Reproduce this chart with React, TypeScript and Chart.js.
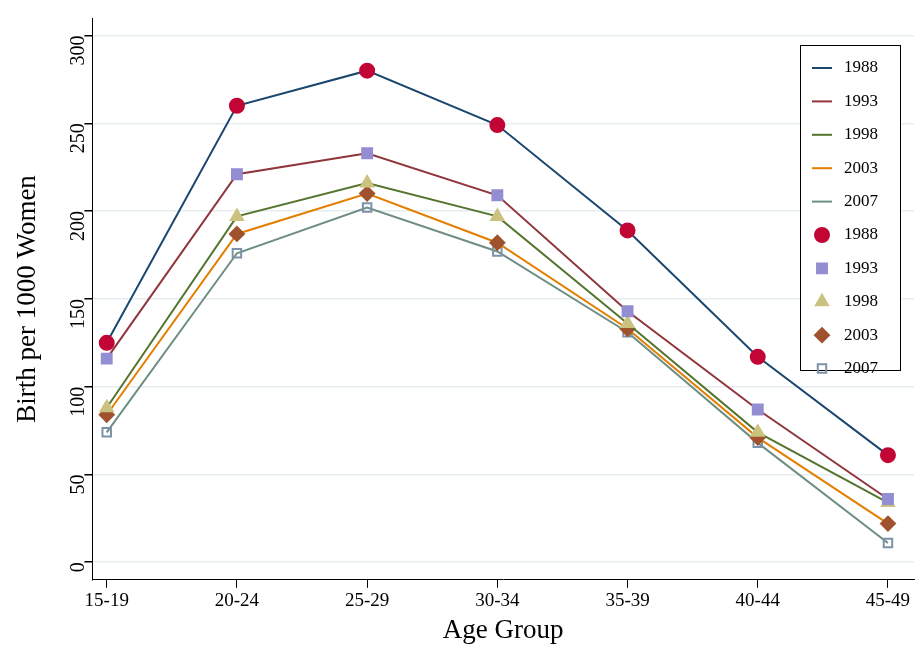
import React, { useEffect, useRef } from "react";
import { Chart, registerables } from "chart.js";
import { drawPoint } from "chart.js/helpers";
Chart.register(...registerables);

const categories = ["15-19", "20-24", "25-29", "30-34", "35-39", "40-44", "45-49"];
const years = ["1988", "1993", "1998", "2003", "2007"];
const v1988 = [125, 260, 280, 249, 189, 117, 61];
const v1993 = [116, 221, 233, 209, 143, 87, 36];
const v1998 = [88, 197, 216, 197, 136, 74, 34];
const v2003 = [84, 187, 210, 182, 133, 71, 22];
const v2007 = [74, 176, 202, 177, 131, 68, 11];
const series = [v1988, v1993, v1998, v2003, v2007];
const lineColors = ["#1a476f", "#90353b", "#55752f", "#e37e00", "#6e8e84"];
const markColors = ["#c10534", "#938dd2", "#cac27e", "#a0522d", "#7b92a8"];
const markStyles = ["circle", "rect", "triangle", "rectRot", "rect"];
const markRadius = [7, 7, 7, 7, 6];
const FONT = "'Liberation Serif', 'DejaVu Serif', serif";

const legendPlugin = {
  id: "customLegend",
  afterDraw(chart: any) {
    const ctx = chart.ctx;
    const x0 = 800, y0 = 45, w = 100, h = 325;
    ctx.save();
    ctx.fillStyle = "#fff";
    ctx.fillRect(x0, y0, w, h);
    ctx.strokeStyle = "#000";
    ctx.lineWidth = 1;
    ctx.strokeRect(x0 + 0.5, y0 + 0.5, w, h);
    ctx.font = `17px ${FONT}`;
    ctx.textBaseline = "middle";
    for (let i = 0; i < 10; i++) {
      const y = y0 + 23 + i * 33.4;
      const k = i % 5;
      if (i < 5) {
        ctx.strokeStyle = lineColors[k];
        ctx.lineWidth = 2;
        ctx.beginPath();
        ctx.moveTo(x0 + 12, y);
        ctx.lineTo(x0 + 32, y);
        ctx.stroke();
      } else {
        ctx.lineWidth = 2;
        ctx.fillStyle = k !== 4 ? markColors[k] : "rgba(0,0,0,0)";
        ctx.strokeStyle = markColors[k];
        drawPoint(ctx, { pointStyle: markStyles[k], radius: markRadius[k], rotation: 0, borderWidth: 2 } as any, x0 + 22, y);
      }
      ctx.fillStyle = "#000";
      ctx.fillText(years[k], x0 + 44, y);
    }
    ctx.restore();
  },
};

export default function App() {
  const ref = useRef<HTMLCanvasElement>(null);
  useEffect(() => {
    const datasets: any[] = series.map((s, k) => ({
      label: years[k],
      data: s.map((v, i) => ({ x: i, y: v })),
      borderColor: lineColors[k],
      borderWidth: 2,
      pointStyle: markStyles[k],
      pointRadius: markRadius[k],
      pointBackgroundColor: k === 4 ? "rgba(0,0,0,0)" : markColors[k],
      pointBorderColor: markColors[k],
      pointBorderWidth: 2,
      showLine: true,
      fill: false,
    }));
    const chart = new Chart(ref.current!, {
      type: "scatter",
      data: { datasets },
      options: {
        animation: false,
        responsive: false,
        layout: { padding: { left: 12, right: 2, top: 10, bottom: 8 } },
        plugins: { legend: { display: false }, tooltip: { enabled: false } },
        scales: {
          x: {
            type: "linear",
            min: -0.11,
            max: 6.2,
            afterBuildTicks: (ax: any) => { ax.ticks = categories.map((_, i) => ({ value: i })); },
            ticks: { callback: (v: any) => categories[v] ?? "", color: "#000", font: { family: FONT, size: 19 }, padding: 2 },
            grid: { display: true, drawOnChartArea: false, drawTicks: true, tickLength: 8, color: "#000", tickColor: "#000" } as any,
            border: { color: "#000", width: 1 },
            title: { display: true, text: "Age Group", color: "#000", font: { family: FONT, size: 27 }, padding: { top: 0, bottom: 0 } },
          },
          y: {
            min: -10,
            max: 310,
            afterBuildTicks: (ax: any) => { ax.ticks = [0, 50, 100, 150, 200, 250, 300].map((v) => ({ value: v })); },
            ticks: { color: "#000", font: { family: FONT, size: 20 }, minRotation: 90, maxRotation: 90, padding: 6 },
            grid: { color: "#e6edf0", lineWidth: 1.5, tickColor: "#000", tickLength: 8, drawTicks: true } as any,
            border: { color: "#000", width: 1 },
            title: { display: true, text: "Birth per 1000 Women", color: "#000", font: { family: FONT, size: 27 }, padding: { top: 0, bottom: 4 } },
          },
        },
      },
      plugins: [legendPlugin],
    } as any);
    return () => chart.destroy();
  }, []);
  return (
    <div style={{ position: "absolute", left: 0, top: 0, width: 923, height: 655, background: "#fff" }}>
      <canvas ref={ref} width={923} height={655} />
    </div>
  );
}
